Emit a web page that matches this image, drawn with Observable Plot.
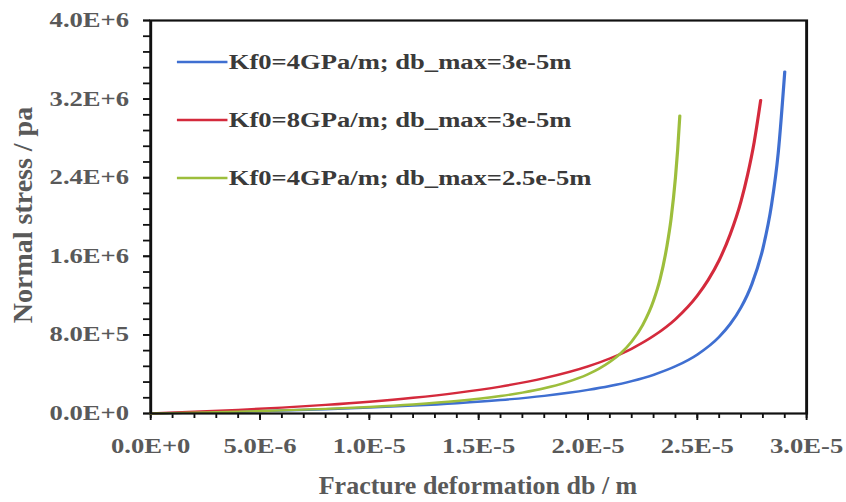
<!DOCTYPE html>
<html>
<head>
<meta charset="utf-8">
<script src="https://cdn.jsdelivr.net/npm/d3@7"></script>
<script src="https://cdn.jsdelivr.net/npm/@observablehq/plot@0.6"></script>
<style>
  html, body { margin: 0; padding: 0; background: #fff; overflow: hidden; }
  #chart svg { display: block; transform-origin: 0 0; }
</style>
</head>
<body>
<div id="chart"></div>
<script>
// Normal stress vs. fracture closure for three joint stiffness settings
const seriesNames = [
  "Kf0=4GPa/m; db_max=3e-5m",
  "Kf0=8GPa/m; db_max=3e-5m",
  "Kf0=4GPa/m; db_max=2.5e-5m"
];
const seriesColors = ["#3f6fd1", "#d42a3c", "#9dbe3c"];

// Kf0 = 4 GPa/m, db_max = 3e-5 m
const blueDb = [0, 2e-6, 4e-6, 6e-6, 8e-6, 1.0e-5, 1.2e-5, 1.4e-5, 1.6e-5, 1.8e-5, 2.0e-5, 2.1e-5,
  2.2e-5, 2.3e-5, 2.4e-5, 2.5e-5, 2.6e-5, 2.65e-5, 2.7e-5, 2.75e-5, 2.8e-5, 2.84e-5, 2.87e-5, 2.9e-5];
const blueStress = [0, 8.6e3, 1.85e4, 3.0e4, 4.36e4, 6.0e4, 8.0e4, 1.05e5, 1.37e5, 1.8e5, 2.4e5, 2.8e5,
  3.3e5, 3.94e5, 4.8e5, 6.0e5, 7.8e5, 9.09e5, 1.08e6, 1.32e6, 1.68e6, 2.13e6, 2.65e6, 3.48e6];

// Kf0 = 8 GPa/m, db_max = 3e-5 m
const redDb = [0, 2e-6, 4e-6, 6e-6, 8e-6, 1.0e-5, 1.2e-5, 1.4e-5, 1.6e-5, 1.8e-5, 2.0e-5, 2.1e-5,
  2.2e-5, 2.3e-5, 2.4e-5, 2.5e-5, 2.55e-5, 2.6e-5, 2.65e-5, 2.7e-5, 2.73e-5, 2.76e-5, 2.79e-5];
const redStress = [0, 1.71e4, 3.69e4, 6.0e4, 8.73e4, 1.2e5, 1.6e5, 2.1e5, 2.74e5, 3.6e5, 4.8e5, 5.6e5,
  6.6e5, 7.89e5, 9.6e5, 1.2e6, 1.36e6, 1.56e6, 1.82e6, 2.16e6, 2.43e6, 2.76e6, 3.19e6];

// Kf0 = 4 GPa/m, db_max = 2.5e-5 m
const greenDb = [0, 2e-6, 4e-6, 6e-6, 8e-6, 1.0e-5, 1.2e-5, 1.4e-5, 1.6e-5, 1.7e-5, 1.8e-5, 1.9e-5,
  2.0e-5, 2.05e-5, 2.1e-5, 2.15e-5, 2.2e-5, 2.25e-5, 2.3e-5, 2.33e-5, 2.36e-5, 2.38e-5, 2.4e-5, 2.41e-5, 2.42e-5];
const greenStress = [0, 8.7e3, 1.9e4, 3.16e4, 4.71e4, 6.67e4, 9.23e4, 1.27e5, 1.78e5, 2.13e5, 2.57e5, 3.17e5,
  4.0e5, 4.56e5, 5.25e5, 6.14e5, 7.33e5, 9.0e5, 1.15e6, 1.37e6, 1.69e6, 1.98e6, 2.4e6, 2.68e6, 3.03e6];

// Axis ticks and their labels
const xTicks = [0, 5e-6, 1e-5, 1.5e-5, 2e-5, 2.5e-5, 3e-5];
const xTickLabels = ["0.0E+0", "5.0E-6", "1.0E-5", "1.5E-5", "2.0E-5", "2.5E-5", "3.0E-5"];
const xMinorTicks = d3.range(0, 31).map(i => i * 1e-6);
const yTicks = [0, 8e5, 1.6e6, 2.4e6, 3.2e6, 4e6];
const yTickLabels = ["0.0E+0", "8.0E+5", "1.6E+6", "2.4E+6", "3.2E+6", "4.0E+6"];
const yMinorTicks = d3.range(0, 26).map(i => i * 1.6e5);
const xTitle = "Fracture deformation db / m";
const yTitle = "Normal stress / pa";

const series = [
  {db: blueDb, stress: blueStress},
  {db: redDb, stress: redStress},
  {db: greenDb, stress: greenStress}
].map((s, k) => s.db.map((d, i) => ({db: d, stress: s.stress[i], name: seriesNames[k]})));

// The chart is laid out at a narrower width, then widened horizontally
const outW = 846, H = 502, W = 636;
const stretch = outW / W;
const textGray = "#595959";
const serif = "'Liberation Serif', 'Times New Roman', serif";

const fmtX = d => xTickLabels[xTicks.findIndex(t => Math.abs(t - d) < 1e-9)];
const fmtY = d => yTickLabels[yTicks.findIndex(t => Math.abs(t - d) < 1)];

const chart = Plot.plot({
  width: W,
  height: H,
  marginLeft: 112.8,
  marginRight: 30.1,
  marginTop: 20,
  marginBottom: 89,
  style: {fontFamily: serif, fontSize: "20px", fontWeight: "bold", background: "#fff"},
  x: {domain: [0, 3e-5]},
  y: {domain: [0, 4e6]},
  marks: [
    Plot.axisX(xMinorTicks, {tickSize: 5, stroke: "#111", strokeWidth: 1.4, fill: "none", label: null}),
    Plot.axisY(yMinorTicks, {tickSize: 5.3, stroke: "#111", strokeWidth: 1.8, fill: "none", label: null}),
    Plot.axisX(xTicks, {tickSize: 7, tickPadding: 18, stroke: "#111", strokeWidth: 1.4, fill: textGray,
      tickFormat: fmtX, label: null}),
    Plot.axisY(yTicks, {tickSize: 5.3, tickPadding: 11, stroke: "#111", strokeWidth: 1.8, fill: textGray,
      tickFormat: fmtY, label: null}),
    ...series.map((s, k) => Plot.line(s, {x: "db", y: "stress", stroke: seriesColors[k],
      strokeWidth: 2.4, curve: "monotone-x"})),
    Plot.frame({stroke: "#111", strokeWidth: 2.2})
  ]
});

const svg = d3.select(chart);
svg.style("transform", `scaleX(${stretch})`);

// Axis titles (kept at their natural proportions inside the widened chart)
const unstretch = `scale(${1 / stretch},1)`;
svg.append("text")
  .attr("transform", `${unstretch} translate(478,485)`)
  .attr("dy", "0.33em")
  .attr("text-anchor", "middle")
  .attr("font-size", 26)
  .attr("fill", textGray)
  .text(xTitle);
svg.append("text")
  .attr("transform", `${unstretch} translate(23,215) rotate(-90)`)
  .attr("dy", "0.33em")
  .attr("text-anchor", "middle")
  .attr("font-size", 28)
  .attr("fill", textGray)
  .text(yTitle);

// Legend
const legend = svg.append("g");
seriesNames.forEach((name, k) => {
  const y = 62 + k * 58;
  legend.append("line")
    .attr("x1", 133).attr("x2", 171).attr("y1", y).attr("y2", y)
    .attr("stroke", seriesColors[k]).attr("stroke-width", 2.6);
  legend.append("text")
    .attr("x", 172).attr("y", y).attr("dy", "0.33em")
    .attr("text-anchor", "start")
    .attr("fill", "#3a3a3a")
    .text(name);
});

document.getElementById("chart").appendChild(chart);
</script>
</body>
</html>
